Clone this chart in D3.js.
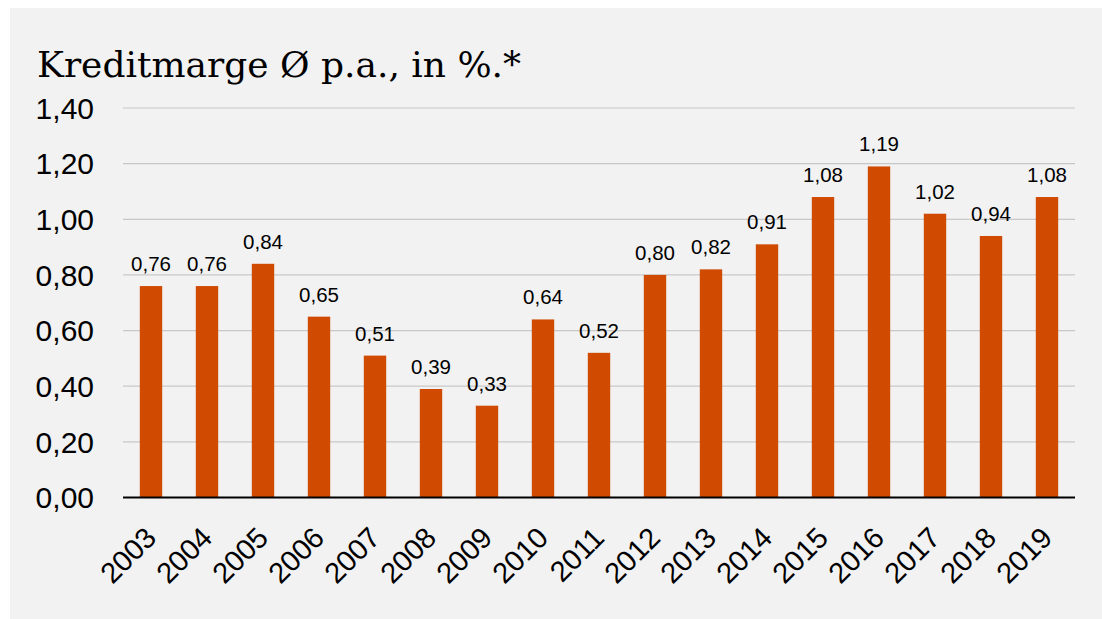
<!DOCTYPE html>
<html>
<head>
<meta charset="utf-8">
<script src="https://cdn.jsdelivr.net/npm/d3@7"></script>
<style>
  body { margin: 0; background: white; }
</style>
</head>
<body>
<div id="container"></div>
<script>
// Kreditmarge bar chart

const width = 1102;
const height = 619;

const years = ["2003", "2004", "2005", "2006", "2007", "2008", "2009", "2010", "2011",
    "2012", "2013", "2014", "2015", "2016", "2017", "2018", "2019"];
const margins = [0.76, 0.76, 0.84, 0.65, 0.51, 0.39, 0.33, 0.64, 0.52,
    0.80, 0.82, 0.91, 1.08, 1.19, 1.02, 0.94, 1.08];
const yTicks = [0, 0.2, 0.4, 0.6, 0.8, 1.0, 1.2, 1.4];

const data = years.map((y, i) => ({ year: y, value: margins[i] }));

const fmt = v => d3.format(".2f")(v).replace(".", ",");

const svg = d3.select("#container")
    .append("svg")
    .attr("width", width)
    .attr("height", height);

// grey panel
svg.append("rect")
    .attr("x", 10)
    .attr("y", 8)
    .attr("width", width - 10)
    .attr("height", height - 8)
    .attr("fill", "#f2f2f2");

svg.append("text")
    .attr("x", 37)
    .attr("y", 77)
    .attr("font-family", "DejaVu Serif, serif")
    .attr("font-size", "36px")
    .attr("fill", "#000")
    .text("Kreditmarge Ø p.a., in %.*");

const x = d3.scaleBand()
    .domain(years)
    .range([123, 1075])
    .paddingInner(0.6)
    .paddingOuter(0.3);

const y = d3.scaleLinear()
    .domain([0, 1.4])
    .range([497.5, 108]);

// gridlines
svg.append("g")
    .selectAll("line")
    .data(yTicks.slice(1))
    .join("line")
    .attr("x1", 123)
    .attr("x2", 1075)
    .attr("y1", d => y(d))
    .attr("y2", d => y(d))
    .attr("stroke", "#c8c8c8")
    .attr("stroke-width", 1.2);

// y labels
svg.append("g")
    .selectAll("text")
    .data(yTicks)
    .join("text")
    .attr("x", 94)
    .attr("y", d => y(d))
    .attr("dy", "0.36em")
    .attr("text-anchor", "end")
    .attr("font-family", "Liberation Sans, Arial, sans-serif")
    .attr("font-size", "30px")
    .attr("fill", "#000")
    .text(fmt);

// bars
svg.append("g")
    .selectAll("rect")
    .data(data)
    .join("rect")
    .attr("x", d => x(d.year))
    .attr("y", d => y(d.value))
    .attr("width", x.bandwidth())
    .attr("height", d => y(0) - y(d.value))
    .attr("fill", "#d04a02");

// value labels
svg.append("g")
    .selectAll("text")
    .data(data)
    .join("text")
    .attr("x", d => x(d.year) + x.bandwidth() / 2)
    .attr("y", d => y(d.value) - 15)
    .attr("text-anchor", "middle")
    .attr("font-family", "Liberation Sans, Arial, sans-serif")
    .attr("font-size", "20.5px")
    .attr("fill", "#000")
    .text(d => fmt(d.value));

// baseline
svg.append("line")
    .attr("x1", 123)
    .attr("x2", 1075)
    .attr("y1", y(0))
    .attr("y2", y(0))
    .attr("stroke", "#000")
    .attr("stroke-width", 2);

// year labels, rotated
svg.append("g")
    .selectAll("text")
    .data(years)
    .join("text")
    .attr("transform", d => `translate(${x(d) + x.bandwidth() / 2 + 7}, ${y(0) + 42}) rotate(-45)`)
    .attr("text-anchor", "end")
    .attr("font-family", "Liberation Sans, Arial, sans-serif")
    .attr("font-size", "29px")
    .attr("fill", "#000")
    .text(d => d);
</script>
</body>
</html>
